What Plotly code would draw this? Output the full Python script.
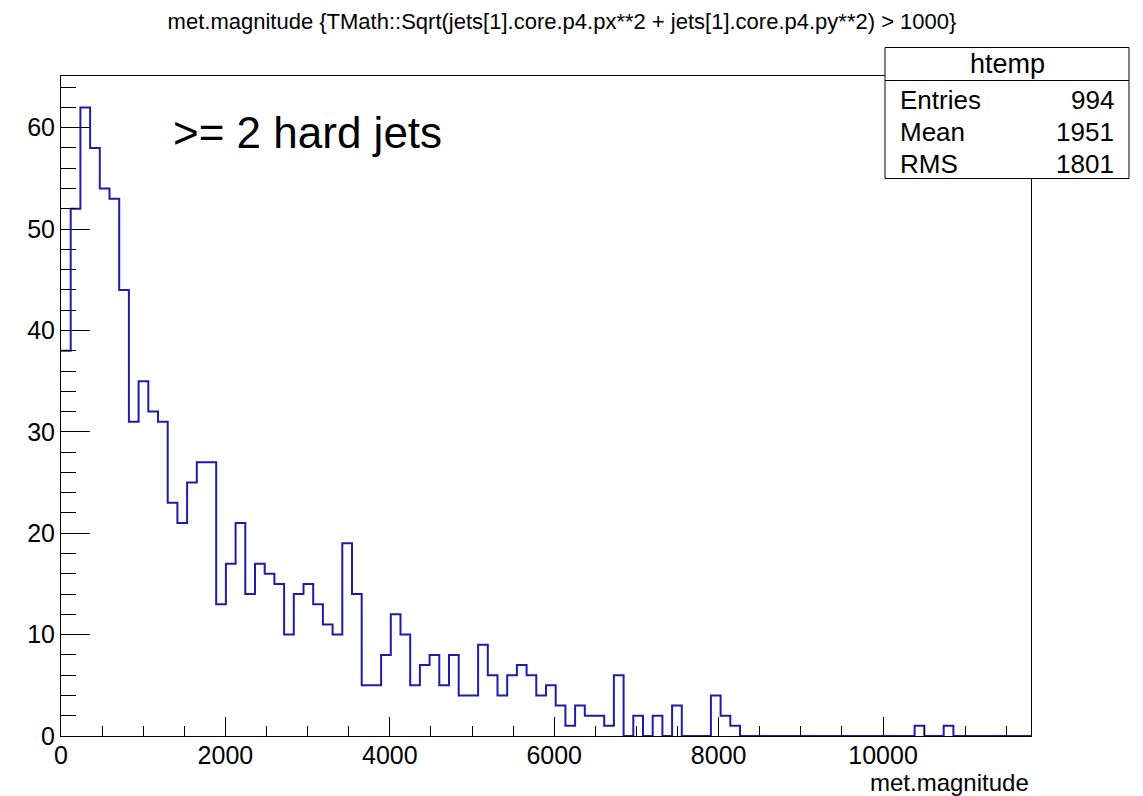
import numpy as np
import plotly.graph_objects as go

# Histogram definition (htemp): 100 equal-width bins
NBINS = 100
XMIN = 0.0
XMAX = 11800.0

# Bin contents of met.magnitude for events passing the jet cut
counts = [
    38, 52, 62, 58, 54, 53, 44, 31, 35, 32,
    31, 23, 21, 25, 27, 27, 13, 17, 21, 14,
    17, 16, 15, 10, 14, 15, 13, 11, 10, 19,
    14, 5, 5, 8, 12, 10, 5, 7, 8, 5,
    8, 4, 4, 9, 6, 4, 6, 7, 6, 4,
    5, 3, 1, 3, 2, 2, 1, 6, 0, 2,
    0, 2, 0, 3, 0, 0, 0, 4, 2, 1,
    0, 0, 0, 0, 0, 0, 0, 0, 0, 0,
    0, 0, 0, 0, 0, 0, 0, 0, 1, 0,
    0, 1, 0, 0, 0, 0, 0, 0, 0, 0,
]

# Statistics box entries
stat_labels = ["Entries", "Mean", "RMS"]
stat_values = ["994", "1951", "1801"]
hist_name = "htemp"

title_text = "met.magnitude {TMath::Sqrt(jets[1].core.p4.px**2 + jets[1].core.p4.py**2) > 1000}"
x_title = "met.magnitude"
label_text = "&gt;= 2 hard jets"

edges = np.linspace(XMIN, XMAX, NBINS + 1)
step_y = list(counts) + [counts[-1]]
ymax = max(counts) * 1.05

FONT = "Liberation Sans, Arial, Helvetica, sans-serif"
LINE_BLUE = "#1d1daa"

fig = go.Figure()
fig.add_trace(go.Scatter(
    x=edges, y=step_y, mode="lines", line_shape="hv",
    line=dict(color=LINE_BLUE, width=2), showlegend=False, hoverinfo="skip",
))

# Plot frame in pixels: left 61, right 1031, top 76, bottom 736
L, R, T, B = 61, 1031, 76, 736
W, H = R - L, B - T


def px_x(p):
    return (p - L) / W


def px_y(p):
    return (B - p) / H


shapes = [
    # stats box (white, above the frame)
    dict(type="rect", xref="paper", yref="paper",
         x0=px_x(885), x1=px_x(1129), y0=px_y(178.5), y1=px_y(47.5),
         line=dict(color="black", width=1), fillcolor="white", layer="above"),
    dict(type="line", xref="paper", yref="paper",
         x0=px_x(885), x1=px_x(1129), y0=px_y(80.5), y1=px_y(80.5),
         line=dict(color="black", width=1), layer="above"),
]

annotations = [
    dict(text=hist_name, xref="paper", yref="paper", x=px_x(1007), y=px_y(64),
         xanchor="center", yanchor="middle", showarrow=False,
         font=dict(family=FONT, size=27, color="black")),
    dict(text=label_text, xref="paper", yref="paper", x=px_x(171), y=px_y(133),
         xanchor="left", yanchor="middle", showarrow=False,
         font=dict(family=FONT, size=44, color="black")),
    dict(text=x_title, xref="paper", yref="paper", x=px_x(1031), y=px_y(782),
         xanchor="right", yanchor="middle", showarrow=False,
         font=dict(family=FONT, size=24, color="black")),
]
for i, (lab, val) in enumerate(zip(stat_labels, stat_values)):
    yc = px_y(99.5 + i * 32.5)
    annotations.append(dict(text=lab, xref="paper", yref="paper", x=px_x(898), y=yc,
                            xanchor="left", yanchor="middle", showarrow=False,
                            font=dict(family=FONT, size=26, color="black")))
    annotations.append(dict(text=val, xref="paper", yref="paper", x=px_x(1116), y=yc,
                            xanchor="right", yanchor="middle", showarrow=False,
                            font=dict(family=FONT, size=26, color="black")))

fig.update_layout(
    width=1143, height=796,
    margin=dict(l=L, r=1143 - R, t=T, b=796 - B),
    paper_bgcolor="white", plot_bgcolor="white",
    title=dict(text=title_text, x=562 / 1143, y=1 - 21 / 796,
               xanchor="center", yanchor="middle",
               font=dict(family=FONT, size=22, color="black")),
    shapes=shapes, annotations=annotations,
    xaxis=dict(
        range=[XMIN, XMAX], showgrid=False, zeroline=False,
        showline=True, linecolor="black", linewidth=1, mirror=True,
        ticks="inside", ticklen=19, tickcolor="black", tickwidth=1,
        tick0=0, dtick=2000, tickformat="d", ticklabelstandoff=-3,
        minor=dict(ticks="inside", ticklen=10, dtick=500, tickcolor="black", showgrid=False),
        tickfont=dict(family=FONT, size=25, color="black"),
    ),
    yaxis=dict(
        range=[0, ymax], showgrid=False, zeroline=False,
        showline=True, linecolor="black", linewidth=1, mirror=True,
        ticks="inside", ticklen=29, tickcolor="black", tickwidth=1,
        tick0=0, dtick=10, tickformat="d",
        minor=dict(ticks="inside", ticklen=15, dtick=2, tickcolor="black", showgrid=False),
        tickfont=dict(family=FONT, size=25, color="black"),
    ),
)

fig.write_html("out.html")
